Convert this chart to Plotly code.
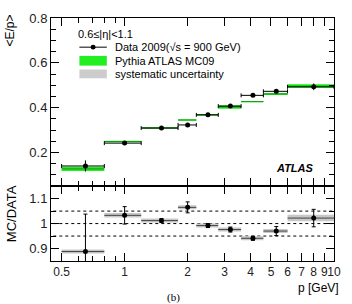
import plotly.graph_objects as go
import numpy as np

# ---- data ----
bin_edges = [0.5, 0.8, 1.2, 1.8, 2.2, 2.8, 3.6, 4.6, 6.0, 10.0]
p_centers = [0.65, 1.0, 1.5, 2.0, 2.5, 3.2, 4.1, 5.3, 8.0]
data_ep = [0.140, 0.242, 0.309, 0.323, 0.368, 0.407, 0.455, 0.473, 0.493]
data_ep_err = [0.025, 0.004, 0.004, 0.005, 0.004, 0.004, 0.005, 0.006, 0.015]
mc_ep = [0.127, 0.249, 0.310, 0.345, 0.368, 0.403, 0.427, 0.461, 0.496]
mc_ep_err = [0.009, 0.003, 0.003, 0.003, 0.003, 0.008, 0.003, 0.004, 0.008]
ratio = [0.888, 1.033, 1.012, 1.065, 0.992, 0.976, 0.941, 0.970, 1.022]
ratio_err = [0.15, 0.035, 0.008, 0.022, 0.008, 0.010, 0.008, 0.018, 0.035]
ratio_syst = [0.008, 0.009, 0.008, 0.008, 0.008, 0.008, 0.008, 0.008, 0.013]
ref_lines = [0.95, 1.0, 1.05]
x_tickvals = [0.5, 1, 2, 3, 4, 5, 6, 7, 8, 9, 10]
x_ticktext = ["0.5", "1", "2", "3", "4", "5", "6", "7", "8", "9", "10"]
x_minor = [0.6, 0.7, 0.8, 0.9]

lo = bin_edges[:-1]
hi = bin_edges[1:]
ex_minus = [c - l for c, l in zip(p_centers, lo)]
ex_plus = [h - c for c, h in zip(p_centers, hi)]

def boxes(vals, errs):
    xs, ys = [], []
    for l, h, v, e in zip(lo, hi, vals, errs):
        xs += [l, h, h, l, l, None]
        ys += [v - e, v - e, v + e, v + e, v - e, None]
    return xs, ys

def steps(vals):
    xs, ys = [], []
    for l, h, v in zip(lo, hi, vals):
        xs += [l, h, None]
        ys += [v, v, None]
    return xs, ys

fig = go.Figure()

# MC band (top)
bx, by = boxes(mc_ep, mc_ep_err)
fig.add_trace(go.Scatter(x=bx, y=by, fill="toself", fillcolor="#22ee22",
                         line=dict(width=0), mode="lines", xaxis="x", yaxis="y",
                         hoverinfo="skip"))
sx, sy = steps(mc_ep)
fig.add_trace(go.Scatter(x=sx, y=sy, mode="lines", line=dict(color="#119911", width=1),
                         xaxis="x", yaxis="y", hoverinfo="skip"))
# Data (top)
fig.add_trace(go.Scatter(x=p_centers, y=data_ep, mode="markers",
                         marker=dict(color="black", size=5),
                         error_x=dict(type="data", symmetric=False, array=ex_plus,
                                      arrayminus=ex_minus, color="black", thickness=1, width=2),
                         error_y=dict(type="data", array=data_ep_err, color="black",
                                      thickness=1, width=0),
                         xaxis="x", yaxis="y"))

# Ratio panel
for v in ref_lines:
    fig.add_trace(go.Scatter(x=[0.4, 11], y=[v, v], mode="lines",
                             line=dict(color="black", width=1, dash="dot"),
                             xaxis="x2", yaxis="y2", hoverinfo="skip"))
gx, gy = boxes(ratio, ratio_syst)
fig.add_trace(go.Scatter(x=gx, y=gy, fill="toself", fillcolor="#c8c8c8",
                         line=dict(width=0), mode="lines", xaxis="x2", yaxis="y2",
                         hoverinfo="skip"))
fig.add_trace(go.Scatter(x=p_centers, y=ratio, mode="markers",
                         marker=dict(color="black", size=5),
                         error_x=dict(type="data", symmetric=False, array=ex_plus,
                                      arrayminus=ex_minus, color="#444444", thickness=1, width=0),
                         error_y=dict(type="data", array=ratio_err, color="black",
                                      thickness=1, width=2),
                         xaxis="x2", yaxis="y2"))

axis_common = dict(showline=True, linecolor="black", linewidth=1, mirror="allticks",
                   ticks="inside", ticklen=8, tickcolor="black", showgrid=False,
                   zeroline=False, tickangle=0,
                   tickfont=dict(family="Liberation Sans", size=13, color="#222"))

xr = [np.log10(0.445), 1.0]
top_frac = 77 / 250

fig.update_layout(
    width=352, height=304,
    margin=dict(l=51, r=12, t=11, b=43),
    paper_bgcolor="white", plot_bgcolor="white",
    showlegend=False,
    xaxis=dict(type="log", range=xr, anchor="y", showticklabels=False,
               tickvals=x_tickvals, minor=dict(tickvals=x_minor, ticklen=5, ticks="inside", tickcolor="black"),
               **axis_common),
    yaxis=dict(domain=[top_frac, 1], range=[0.05, 0.8], tickvals=[0.2, 0.4, 0.6, 0.8],
               ticktext=["0.2", "0.4", "0.6", "0.8"], anchor="x",
               minor=dict(dtick=0.05, ticklen=5, ticks="inside", tickcolor="black"),
               **axis_common),
    xaxis2=dict(type="log", range=xr, anchor="y2", tickvals=x_tickvals, ticktext=x_ticktext,
                minor=dict(tickvals=x_minor, ticklen=5, ticks="inside", tickcolor="black"),
                **{**axis_common, "tickfont": dict(family="Liberation Sans", size=12, color="#222")}),
    yaxis2=dict(domain=[0, top_frac], range=[0.85, 1.15], tickvals=[0.9, 1.0, 1.1],
                ticktext=["0.9", "1", "1.1"], anchor="x2",
                minor=dict(dtick=0.05, ticklen=5, ticks="inside", tickcolor="black"),
                **axis_common),
)

def px2p(px, py):
    return (px - 51) / 289, (261 - py) / 250

F = "Liberation Sans"
ann = []
def add_text(txt, px, py, size=11, xanchor="left", family=F, angle=0, color="black"):
    x, y = px2p(px, py)
    ann.append(dict(text=txt, x=x, y=y, xref="paper", yref="paper", showarrow=False,
                    xanchor=xanchor, yanchor="middle", textangle=angle,
                    font=dict(family=family, size=size, color=color)))

add_text("0.6≤|η|<1.1", 77, 27, size=11)
add_text("Data 2009(√s = 900 GeV)", 114, 41, size=11)
add_text("Pythia ATLAS MC09", 114, 55, size=11)
add_text("systematic uncertainty", 114, 69, size=11)
add_text("<b><i>ATLAS</i></b>", 300, 165, size=11, xanchor="center")
add_text("p [GeV]", 347, 289, size=12, xanchor="right")
add_text("(b)", 176, 299, size=11, xanchor="center", family="Liberation Serif")
add_text("<E/p>", 9, 24, size=12, xanchor="center", angle=-90)
add_text("MC/DATA", 11, 212, size=13, xanchor="center", angle=-90)
fig.update_layout(annotations=ann)

shapes = []
def rect(x0, y0, x1, y1, color):
    a0, b0 = px2p(x0, y0)
    a1, b1 = px2p(x1, y1)
    shapes.append(dict(type="rect", xref="paper", yref="paper", x0=a0, y0=b0, x1=a1, y1=b1,
                       fillcolor=color, line=dict(width=0)))
rect(80, 50, 108, 60, "#22ee22")
rect(80, 64, 108, 73, "#cccccc")
la, lb = px2p(80, 41)
lc, _ = px2p(108, 41)
shapes.append(dict(type="line", xref="paper", yref="paper", x0=la, x1=lc, y0=lb, y1=lb,
                   line=dict(color="black", width=1)))
ma, mb = px2p(94, 41)
shapes.append(dict(type="circle", xref="paper", yref="paper",
                   x0=ma - 2.5 / 289, x1=ma + 2.5 / 289, y0=mb - 2.5 / 250, y1=mb + 2.5 / 250,
                   fillcolor="black", line=dict(width=0)))
fig.update_layout(shapes=shapes)

fig.write_html("out.html")
